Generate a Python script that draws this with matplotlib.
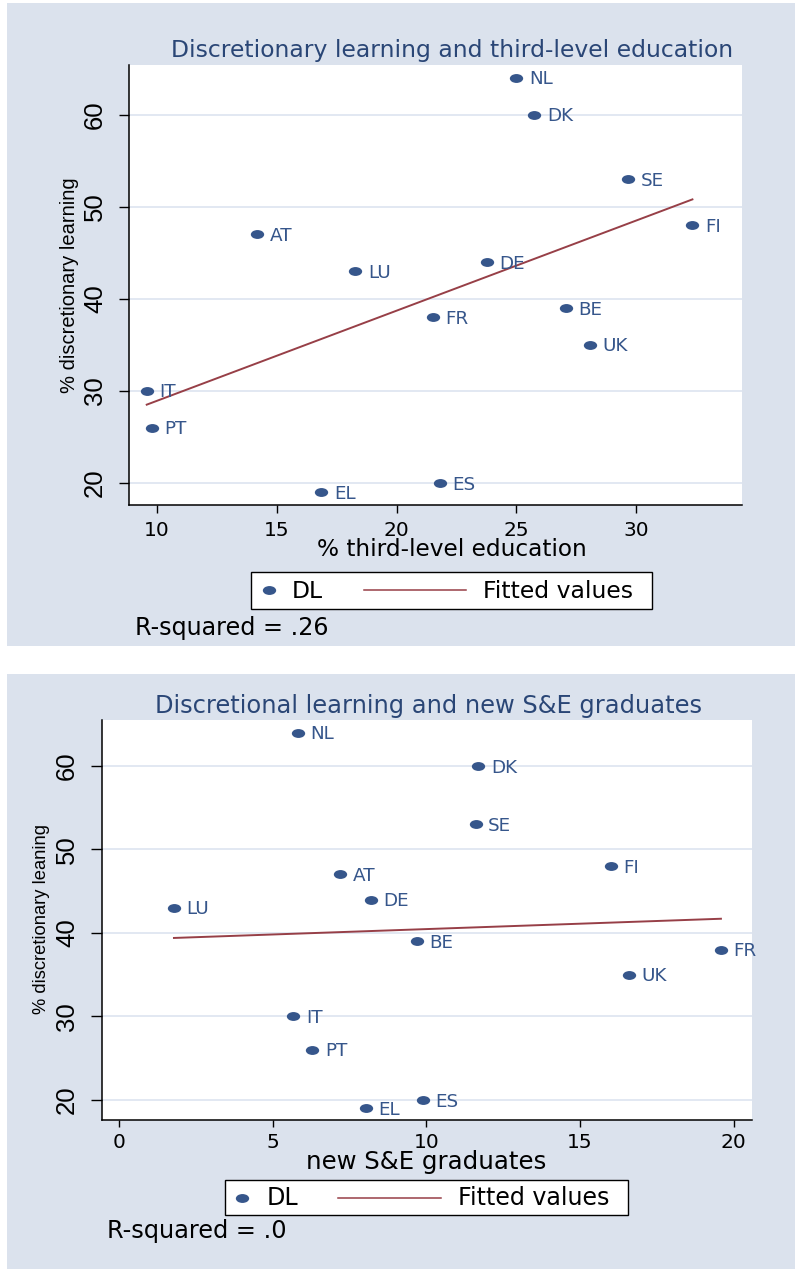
import numpy as np
import matplotlib
matplotlib.use('Agg')
import matplotlib.pyplot as plt
from matplotlib.path import Path
from matplotlib.patches import Rectangle
from matplotlib.lines import Line2D
from matplotlib.transforms import Affine2D

# ---------------- data ----------------
countries = ['NL', 'DK', 'SE', 'FI', 'AT', 'DE', 'LU', 'BE', 'FR', 'UK', 'IT', 'PT', 'EL', 'ES']
dl = [64, 60, 53, 48, 47, 44, 43, 39, 38, 35, 30, 26, 19, 20]
third_level = [25.0, 25.75, 29.65, 32.35, 14.18, 23.78, 18.28, 27.07, 21.5, 28.07, 9.57, 9.78, 16.86, 21.8]
se_grads = [5.81, 11.69, 11.60, 16.0, 7.19, 8.2, 1.79, 9.68, 19.58, 16.59, 5.67, 6.29, 8.02, 9.88]
fit1_x = [9.57, 32.35]
fit1_y = [28.5, 50.8]
fit2_x = [1.79, 19.58]
fit2_y = [39.4, 41.7]
y_ticks = [20, 30, 40, 50, 60]
x1_ticks = [10, 15, 20, 25, 30]
x2_ticks = [0, 5, 10, 15, 20]
title1 = 'Discretionary learning and third-level education'
title2 = 'Discretional learning and new S&E graduates'
xlabel1 = '% third-level education'
xlabel2 = 'new S&E graduates'
ylabel1 = '% discretionary learning'
ylabel2 = '% discretionary leaning'
rsq1 = 'R-squared = .26'
rsq2 = 'R-squared = .0'
legend_labels = ['DL', 'Fitted values']

# ---------------- style ----------------
W, H = 795, 1269
BG = '#dbe2ed'
MARK = '#36568b'
TITLE_C = '#2a4676'
LINE_C = '#973f47'
GRID_C = '#dfe6f1'
HFONT = ['DejaVu Sans']
VFONT = ['Liberation Sans Narrow', 'Liberation Sans', 'DejaVu Sans']

fig = plt.figure(figsize=(W / 100, H / 100), dpi=100)
fig.patch.set_facecolor('white')


def fx(x):
    return x / W


def fy(y):
    return 1 - y / H


# ellipse marker (wider than tall)
ell = Path.unit_circle().transformed(Affine2D().scale(1.5, 1.0))
MS = 9.6

# panel backgrounds
fig.patches.append(Rectangle((fx(7), fy(645.5)), fx(795) - fx(7), fy(3) - fy(645.5),
                             transform=fig.transFigure, facecolor=BG, edgecolor='none', zorder=-10))
fig.patches.append(Rectangle((fx(7), fy(1269)), fx(795) - fx(7), fy(674) - fy(1269),
                             transform=fig.transFigure, facecolor=BG, edgecolor='none', zorder=-10))

renderer = fig.canvas.get_renderer()


def fit(t, target, vertical=False):
    for _ in range(3):
        bb = t.get_window_extent(renderer)
        cur = bb.height if vertical else bb.width
        t.set_fontsize(t.get_fontsize() * target / cur)
    return t


def panel(box, xdata, fit_x, fit_y, xlim, ylim, xticks, ytick_len, xtick_len,
          ypad, xpad, title, title_pos, title_w,
          xlabel, xlabel_pos, xlabel_w, ylabel, ylabel_pos, ylabel_len,
          leg, fv_w, rsq, rsq_pos, rsq_w):
    l, t, r, b = box
    ax = fig.add_axes([fx(l), fy(b), fx(r) - fx(l), fy(t) - fy(b)])
    ax.set_facecolor('white')
    ax.set_xlim(*xlim)
    ax.set_ylim(*ylim)
    for s in ['top', 'right']:
        ax.spines[s].set_visible(False)
    for s in ['left', 'bottom']:
        ax.spines[s].set_linewidth(1.1)
        ax.spines[s].set_color('black')
    ax.set_yticks(y_ticks)
    ax.set_xticks(xticks)
    ax.set_yticklabels([str(v) for v in y_ticks], family=VFONT, fontsize=18.5, rotation=90)
    ax.set_xticklabels([str(v) for v in xticks], family=HFONT, fontsize=14.5)
    for lab in ax.get_yticklabels():
        lab.set_va('center')
    ax.tick_params(axis='y', length=ytick_len, width=1.0, pad=ypad, colors='black')
    ax.tick_params(axis='x', length=xtick_len, width=1.0, pad=xpad, colors='black')
    ax.yaxis.grid(True, color=GRID_C, linewidth=1.3)
    ax.set_axisbelow(True)

    ax.plot(fit_x, fit_y, color=LINE_C, linewidth=1.4, zorder=3)
    ax.plot(xdata, dl, linestyle='none', marker=ell, markersize=MS,
            color=MARK, markeredgewidth=0, zorder=4)
    for c, xv, yv in zip(countries, xdata, dl):
        ax.annotate(c, (xv, yv), xytext=(12.6, -6.6), textcoords='offset pixels',
                    ha='left', va='baseline', family=HFONT, fontsize=13.2,
                    color=MARK, zorder=5, annotation_clip=False)

    tt = fig.text(fx(title_pos[0]), fy(title_pos[1]), title, ha='center', va='baseline',
                  family=HFONT, fontsize=14, color=TITLE_C)
    fit(tt, title_w)
    xl = fig.text(fx(xlabel_pos[0]), fy(xlabel_pos[1]), xlabel, ha='center', va='baseline',
                  family=HFONT, fontsize=14, color='black')
    fit(xl, xlabel_w)
    yl = fig.text(fx(ylabel_pos[0]), fy(ylabel_pos[1]), ylabel, ha='center', va='center',
                  rotation=90, family=VFONT, fontsize=14, color='black')
    fit(yl, ylabel_len, vertical=True)

    # legend
    (bx0, by0, bx1, by1), mk, dl_x, ln, fv_x, base = leg
    fig.patches.append(Rectangle((fx(bx0), fy(by1)), fx(bx1) - fx(bx0), fy(by0) - fy(by1),
                                 transform=fig.transFigure, facecolor='white',
                                 edgecolor='black', linewidth=1.0, zorder=5))
    fig.lines.append(Line2D([fx(mk[0])], [fy(mk[1])], transform=fig.transFigure,
                            linestyle='none', marker=ell, markersize=MS, color=MARK,
                            markeredgewidth=0, zorder=6))
    fig.lines.append(Line2D([fx(ln[0]), fx(ln[1])], [fy(mk[1]), fy(mk[1])],
                            transform=fig.transFigure, color=LINE_C, linewidth=1.1, zorder=6))
    t1 = fig.text(fx(dl_x), fy(base), legend_labels[0], ha='left', va='baseline',
                  family=HFONT, fontsize=16, color='black', zorder=7)
    t2 = fig.text(fx(fv_x), fy(base), legend_labels[1], ha='left', va='baseline',
                  family=HFONT, fontsize=16, color='black', zorder=7)
    fit(t2, fv_w)
    t1.set_fontsize(t2.get_fontsize())

    rt = fig.text(fx(rsq_pos[0]), fy(rsq_pos[1]), rsq, ha='left', va='baseline',
                  family=HFONT, fontsize=15, color='black')
    fit(rt, rsq_w)
    return ax


panel(box=(129, 65, 742, 505), xdata=third_level, fit_x=fit1_x, fit_y=fit1_y,
      xlim=(8.83, 34.42), ylim=(17.6, 65.4), xticks=x1_ticks,
      ytick_len=7.2, xtick_len=5.8, ypad=8.6, xpad=6.0,
      title=title1, title_pos=(452.5, 57), title_w=561,
      xlabel=xlabel1, xlabel_pos=(451.5, 556), xlabel_w=271,
      ylabel=ylabel1, ylabel_pos=(69.5, 285), ylabel_len=216,
      leg=((251, 571.7, 651.7, 609.3), (269, 590.5), 292, (364, 465.7), 482.7, 598.3),
      fv_w=150, rsq=rsq1, rsq_pos=(135, 635), rsq_w=193)

panel(box=(101.7, 720, 752.3, 1120), xdata=se_grads, fit_x=fit2_x, fit_y=fit2_y,
      xlim=(-0.56, 20.6), ylim=(17.6, 65.5), xticks=x2_ticks,
      ytick_len=7.9, xtick_len=4.8, ypad=8.4, xpad=4.8,
      title=title2, title_pos=(428.5, 713.3), title_w=547,
      xlabel=xlabel2, xlabel_pos=(426, 1169.5), xlabel_w=239,
      ylabel=ylabel2, ylabel_pos=(42, 919.5), ylabel_len=190,
      leg=((225, 1180, 628.3, 1215), (242.3, 1197.5), 266.7, (338, 441), 458.3, 1205),
      fv_w=152, rsq=rsq2, rsq_pos=(107.3, 1238), rsq_w=179.4)

fig.savefig('out.png', dpi=100, facecolor='white')
